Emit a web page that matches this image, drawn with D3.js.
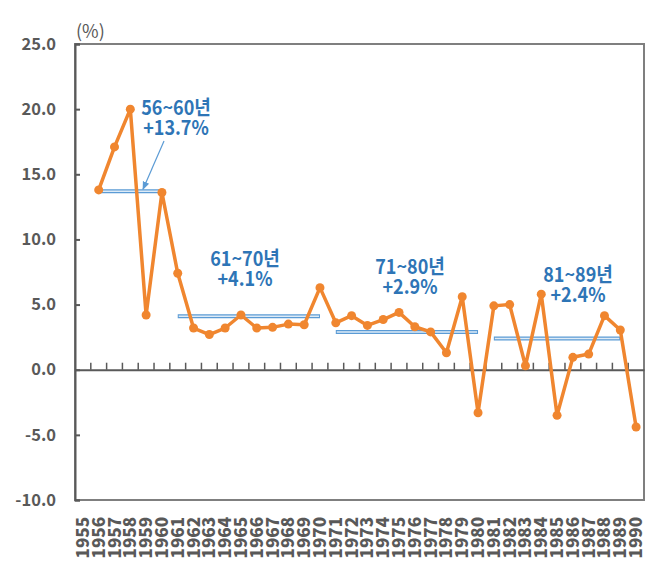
<!DOCTYPE html>
<html>
<head>
<meta charset="utf-8">
<script src="https://cdn.jsdelivr.net/npm/d3@7"></script>
<style>
  body { margin: 0; background: #fff; }
  text { font-family: "Noto Sans CJK KR", "Noto Sans", sans-serif; }
</style>
</head>
<body>
<svg id="grafico"></svg>
<script>
// anos do eixo x (1955 fica sem valor)
let anos = d3.range(1955, 1991).map(String);
let valores = [null, 13.8, 17.1, 20.0, 4.2, 13.6, 7.4, 3.2, 2.7, 3.2, 4.2,
               3.2, 3.25, 3.5, 3.45, 6.3, 3.6, 4.15, 3.4, 3.85, 4.4,
               3.3, 2.9, 1.3, 5.6, -3.3, 4.9, 5.0, 0.3, 5.8, -3.5,
               0.95, 1.2, 4.15, 3.05, -4.4];
// médias por período
let periodos = ["56~60년", "61~70년", "71~80년", "81~89년"];
let mediaTexto = ["+13.7%", "+4.1%", "+2.9%", "+2.4%"];
let mediaValor = [13.7, 4.1, 2.9, 2.4];
let mediaInicio = ["1956", "1961", "1971", "1981"];
let mediaFim = ["1960", "1970", "1980", "1989"];
let yTicks = [25, 20, 15, 10, 5, 0, -5, -10];

let width = 664, height = 576;
let svg = d3.select("#grafico").attr("width", width).attr("height", height);

let mEsq = 75, mDir = 644, mTopo = 44, mBase = 500;
let x = d3.scaleBand().domain(anos).range([mEsq, mDir]);
let y = d3.scaleLinear().domain([-10, 25]).range([mBase, mTopo]);
let cx = (a) => x(a) + x.bandwidth() / 2;

let cinza = "#595959";
let laranja = "#F0862F";
let azul = "#5B9BD5";
let azulTexto = "#2E75B6";

// moldura
svg.append("rect")
    .attr("x", mEsq).attr("y", mTopo)
    .attr("width", mDir - mEsq).attr("height", mBase - mTopo)
    .attr("fill", "none").attr("stroke", "#7F7F7F").attr("stroke-width", 2);

// eixo y
let eixoY = svg.append("g")
    .attr("transform", "translate(" + mEsq + ",0)")
    .call(d3.axisRight(y).tickValues(yTicks).tickSize(5).tickFormat(d3.format(".1f")));
eixoY.select(".domain").attr("stroke", cinza).attr("stroke-width", 2);
eixoY.selectAll(".tick line").attr("stroke", cinza).attr("stroke-width", 2);
eixoY.selectAll(".tick text")
    .attr("x", -19).attr("text-anchor", "end")
    .attr("fill", cinza).style("font-size", "16.5px").style("font-weight", "bold")
    .text((d) => d3.format(".1f")(d).replace("−", "-"));

svg.append("text")
    .attr("x", 76).attr("y", 38)
    .attr("fill", cinza).style("font-size", "18px")
    .text("(%)");

// linha do zero com marcas entre categorias
let eixoX = svg.append("g")
    .attr("transform", "translate(0," + y(0) + ")")
    .call(d3.axisTop(x).tickSize(0).tickFormat(""));
eixoX.select(".domain").attr("stroke", cinza).attr("stroke-width", 2);
eixoX.selectAll(".tick").remove();
eixoX.selectAll("line.marca")
    .data(anos.slice(1))
    .enter().append("line")
    .attr("class", "marca")
    .attr("x1", (d) => x(d)).attr("x2", (d) => x(d))
    .attr("y1", 0).attr("y2", -7)
    .attr("stroke", cinza).attr("stroke-width", 1.5);

// rótulos dos anos
svg.append("g").selectAll("text")
    .data(anos)
    .enter().append("text")
    .attr("transform", (d) => "translate(" + (cx(d) + 6) + "," + 517 + ") rotate(-90)")
    .attr("text-anchor", "end")
    .attr("fill", cinza).style("font-size", "17px").style("font-weight", "900")
    .text((d) => d);

// linhas das médias (linha dupla)
periodos.forEach(function(p, i) {
    let x1 = cx(mediaInicio[i]), x2 = cx(mediaFim[i]), yy = y(mediaValor[i]);
    svg.append("line")
        .attr("x1", x1).attr("x2", x2).attr("y1", yy).attr("y2", yy)
        .attr("stroke", azul).attr("stroke-width", 4);
    svg.append("line")
        .attr("x1", x1 + 1).attr("x2", x2 - 1).attr("y1", yy).attr("y2", yy)
        .attr("stroke", "#DDEBF7").attr("stroke-width", 1.5);
});

// série
let pontos = anos.map((a, i) => ({ano: a, v: valores[i]})).filter((d) => d.v !== null);
let linha = d3.line().x((d) => cx(d.ano)).y((d) => y(d.v));
svg.append("path")
    .datum(pontos)
    .attr("d", linha)
    .attr("fill", "none").attr("stroke", laranja)
    .attr("stroke-width", 3.5).attr("stroke-linejoin", "round");
svg.append("g").selectAll("circle")
    .data(pontos)
    .enter().append("circle")
    .attr("cx", (d) => cx(d.ano)).attr("cy", (d) => y(d.v))
    .attr("r", 4.5).attr("fill", laranja);

// seta do primeiro período
svg.append("defs").append("marker")
    .attr("id", "seta").attr("viewBox", "0 0 10 10")
    .attr("refX", 9).attr("refY", 5)
    .attr("markerWidth", 7).attr("markerHeight", 7)
    .attr("orient", "auto")
    .append("path").attr("d", "M0,1 L10,5 L0,9 z").attr("fill", azul);
svg.append("line")
    .attr("x1", 164).attr("y1", 141)
    .attr("x2", 143).attr("y2", y(mediaValor[0]) - 2)
    .attr("stroke", azul).attr("stroke-width", 1.2)
    .attr("marker-end", "url(#seta)");

// textos das médias (duas linhas num só texto)
let posTexto = [[176, 115], [245, 266], [410, 274], [578, 282]];
periodos.forEach(function(p, i) {
    let t = svg.append("text")
        .attr("transform", "translate(" + posTexto[i][0] + "," + posTexto[i][1] + ") scale(0.9,1)")
        .attr("text-anchor", "middle")
        .attr("fill", azulTexto).style("font-size", "20px").style("font-weight", "bold");
    t.append("tspan").attr("x", 0).text(p);
    t.append("tspan").attr("x", 0).attr("dy", 19.5).text(mediaTexto[i]);
});
</script>
</body>
</html>
